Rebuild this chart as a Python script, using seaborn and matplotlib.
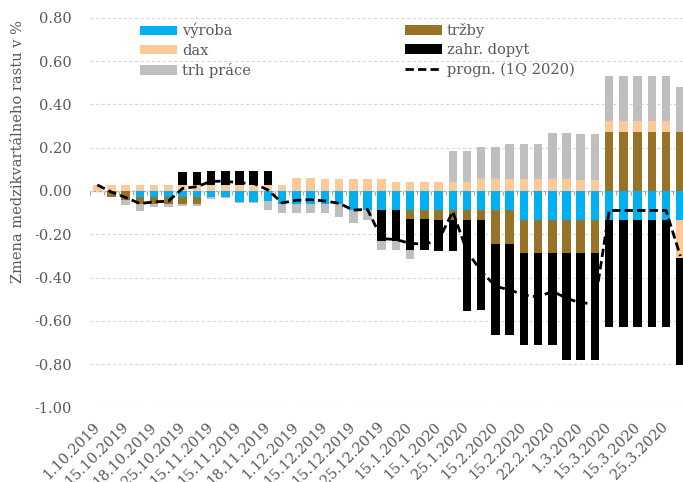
import numpy as np
import matplotlib
matplotlib.use("Agg")
import matplotlib.pyplot as plt
import seaborn as sns
from matplotlib.patches import Patch
from matplotlib.lines import Line2D

# ---------------- data ----------------
date_labels = ["1.10.2019", "15.10.2019", "18.10.2019", "25.10.2019", "15.11.2019",
               "15.11.2019", "18.11.2019", "1.12.2019", "15.12.2019", "15.12.2019",
               "25.12.2019", "15.1.2020", "15.1.2020", "25.1.2020", "15.2.2020",
               "15.2.2020", "22.2.2020", "1.3.2020", "15.3.2020", "15.3.2020", "25.3.2020"]

vyroba = [0, 0, 0, -0.026, -0.026, -0.026, -0.026, -0.026, -0.026, -0.026,
          -0.049, -0.049, -0.047, -0.06, -0.06, -0.06, -0.06, -0.06, -0.086, -0.086,
          -0.086, -0.086, -0.086, -0.086, -0.086, -0.086, -0.086, -0.086, -0.086, -0.086,
          -0.134, -0.134, -0.134, -0.134, -0.134, -0.134, -0.134, -0.134, -0.134, -0.134,
          -0.134, -0.134]
trzby = [0, -0.03, -0.04, -0.034, -0.034, -0.034, -0.034, -0.034, 0, 0,
         0, 0, 0, 0, 0, 0, 0, 0, 0, 0,
         0, 0, -0.042, -0.042, -0.048, -0.048, -0.048, -0.046, -0.157, -0.157,
         -0.154, -0.154, -0.154, -0.154, -0.154, -0.154, 0.274, 0.274, 0.274, 0.274,
         0.274, 0.274]
dax = [0.028, 0.028, 0.028, 0.028, 0.028, 0.028, 0.028, 0.028, 0.028, 0.028,
       0.028, 0.028, 0.028, 0.028, 0.062, 0.062, 0.054, 0.054, 0.054, 0.054,
       0.054, 0.043, 0.043, 0.043, 0.043, 0.043, 0.043, 0.057, 0.057, 0.057,
       0.057, 0.057, 0.057, 0.057, 0.051, 0.051, 0.049, 0.049, 0.049, 0.049,
       0.049, -0.177]
zahr_dopyt = [0, 0, 0, 0, 0, 0, 0.06, 0.06, 0.066, 0.066,
              0.066, 0.066, 0.066, 0, 0, 0, 0, 0, 0, 0,
              -0.146, -0.146, -0.146, -0.146, -0.143, -0.143, -0.419, -0.419, -0.42, -0.42,
              -0.423, -0.423, -0.423, -0.493, -0.493, -0.493, -0.493, -0.493, -0.493, -0.493,
              -0.493, -0.493]
trh_prace = [0, 0, -0.025, -0.031, -0.012, -0.012, -0.009, -0.009, -0.012, -0.005,
             -0.007, -0.007, -0.04, -0.042, -0.042, -0.042, -0.042, -0.058, -0.062, -0.046,
             -0.042, -0.042, -0.038, 0, 0, 0.142, 0.142, 0.145, 0.145, 0.16,
             0.16, 0.16, 0.211, 0.211, 0.211, 0.211, 0.209, 0.209, 0.209, 0.209,
             0.209, 0.208]
progn = [0.028, -0.005, -0.03, -0.058, -0.05, -0.047, 0.012, 0.02, 0.045, 0.045,
         0.038, 0.035, 0.005, -0.055, -0.043, -0.04, -0.046, -0.057, -0.088, -0.085,
         -0.22, -0.224, -0.242, -0.245, -0.228, -0.095, -0.28, -0.37, -0.44, -0.457,
         -0.48, -0.49, -0.463, -0.495, -0.518, -0.518, -0.09, -0.09, -0.09, -0.09,
         -0.09, -0.30]

series_names = ["výroba", "tržby", "dax", "zahr. dopyt", "trh práce"]
line_name = "progn. (1Q 2020)"
ytick_values = [-1.0, -0.8, -0.6, -0.4, -0.2, 0.0, 0.2, 0.4, 0.6, 0.8]
ytick_labels = ["-1.00", "-0.80", "-0.60", "-0.40", "-0.20", "0.00", "0.20", "0.40", "0.60", "0.80"]
ylabel = "Zmena medzikvartálneho rastu v %"

# ---------------- style ----------------
sns.set_style("white")
plt.rcParams["font.family"] = ["DejaVu Serif"]
TXT = "#595959"
FS = 10.5

colors = {"výroba": "#00b0f0", "tržby": "#977328", "dax": "#fdc998",
          "zahr. dopyt": "#000000", "trh práce": "#bfbfbf"}

W, H = 683, 482
fig = plt.figure(figsize=(W / 100, H / 100), dpi=100)
ax = fig.add_axes([90.2 / W, (H - 407.5) / H, 597.2 / W, 389.7 / H])

n = len(vyroba)
pos = np.arange(n)
pos_base = np.zeros(n)
neg_base = np.zeros(n)
for name, vals in zip(series_names, [vyroba, trzby, dax, zahr_dopyt, trh_prace]):
    v = np.asarray(vals, dtype=float)
    bottom = np.where(v >= 0, pos_base, neg_base)
    sns.barplot(x=pos, y=v, bottom=bottom, color=colors[name], saturation=1,
                width=0.6, errorbar=None, linewidth=0, ax=ax, zorder=2)
    pos_base += np.where(v > 0, v, 0)
    neg_base += np.where(v < 0, v, 0)

sns.lineplot(x=pos, y=progn, color="black", lw=2.0, linestyle=(0, (3, 1.5)),
             ax=ax, zorder=4)

ax.set_xlim(-0.5, n - 0.5)
ax.set_ylim(-1.0, 0.8)
ax.set_yticks(ytick_values)
ax.set_yticklabels(ytick_labels)
ax.yaxis.grid(True, color="#d9d9d9", linestyle=(0, (3, 2)), lw=0.8, zorder=0)
ax.xaxis.grid(False)
ax.set_xticks(pos[::2])
ax.set_xticklabels(date_labels, rotation=45, ha="right", va="center",
                   rotation_mode="anchor")
ax.tick_params(axis="x", length=0, pad=12.5, labelsize=FS, labelcolor=TXT)
ax.tick_params(axis="y", length=0, pad=13.3, labelsize=FS, labelcolor=TXT)
ax.set_xlabel("")
ax.set_ylabel("")
for s in ax.spines.values():
    s.set_visible(False)

# zero axis line with category boundary ticks
sec = ax.secondary_xaxis(1.0 / 1.8)
sec.set_xticks(np.arange(-0.5, n, 1.0))
sec.set_xticklabels([])
sec.tick_params(axis="x", direction="in", length=3, width=0.8, color="#a6a6a6")
for s in sec.spines.values():
    s.set_color("#a6a6a6")
    s.set_linewidth(0.9)

fig.text(18 / W, 1 - 152 / H, ylabel, rotation=90, ha="center", va="center",
         fontsize=FS, color=TXT)

# legends
def patch(name):
    return Patch(facecolor=colors[name], edgecolor="none", label=name)

leg_kw = dict(frameon=False, fontsize=FS, labelcolor=TXT, handlelength=2.53,
              handleheight=0.62, handletextpad=0.34, labelspacing=0.36,
              borderpad=0, borderaxespad=0, loc="upper left",
              bbox_transform=fig.transFigure)
h1 = [patch("výroba"), patch("dax"), patch("trh práce")]
h2 = [patch("tržby"), patch("zahr. dopyt"),
      Line2D([], [], color="black", lw=2.0, linestyle=(0, (3, 1.5)), label=line_name)]
fig.legend(handles=h1, bbox_to_anchor=(140 / W, 1 - 23 / H), **leg_kw)
fig.legend(handles=h2, bbox_to_anchor=(405 / W, 1 - 23 / H), **leg_kw)

fig.savefig("out.png", dpi=100)
